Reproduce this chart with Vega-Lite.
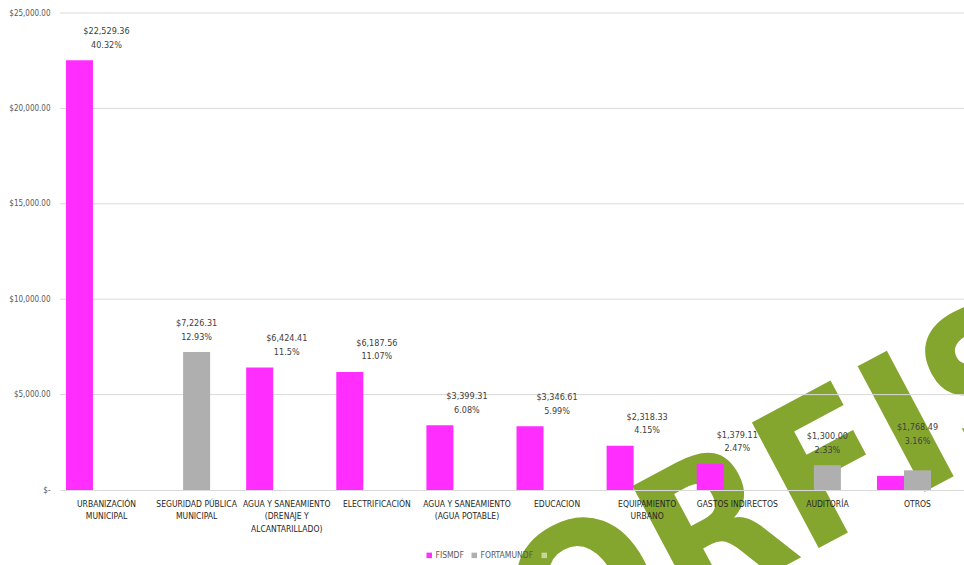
{
  "$schema": "https://vega.github.io/schema/vega-lite/v6.json",
  "width": 904,
  "height": 477,
  "autosize": {"type": "none"},
  "padding": {"left": 60, "top": 13, "right": 0, "bottom": 75},
  "background": "white",
  "config": {
    "view": {"stroke": null},
    "font": "DejaVu Sans Condensed, sans-serif"
  },
  "datasets": {
    "bars": [
      {"category": "URBANIZACIÓN MUNICIPAL", "serie": "FISMDF", "value": 22529.36},
      {"category": "SEGURIDAD PÚBLICA MUNICIPAL", "serie": "FORTAMUNDF", "value": 7226.31},
      {"category": "AGUA Y SANEAMIENTO (DRENAJE Y ALCANTARILLADO)", "serie": "FISMDF", "value": 6424.41},
      {"category": "ELECTRIFICACIÓN", "serie": "FISMDF", "value": 6187.56},
      {"category": "AGUA Y SANEAMIENTO (AGUA POTABLE)", "serie": "FISMDF", "value": 3399.31},
      {"category": "EDUCACION", "serie": "FISMDF", "value": 3346.61},
      {"category": "EQUIPAMIENTO URBANO", "serie": "FISMDF", "value": 2318.33},
      {"category": "GASTOS INDIRECTOS", "serie": "FISMDF", "value": 1379.11},
      {"category": "AUDITORÍA", "serie": "FORTAMUNDF", "value": 1300.00},
      {"category": "OTROS", "serie": "FISMDF", "value": 737.49},
      {"category": "OTROS", "serie": "FORTAMUNDF", "value": 1031.00}
    ],
    "labels": [
      {"category": "URBANIZACIÓN MUNICIPAL", "total": 22529.36, "pct": "40.32%"},
      {"category": "SEGURIDAD PÚBLICA MUNICIPAL", "total": 7226.31, "pct": "12.93%"},
      {"category": "AGUA Y SANEAMIENTO (DRENAJE Y ALCANTARILLADO)", "total": 6424.41, "pct": "11.5%"},
      {"category": "ELECTRIFICACIÓN", "total": 6187.56, "pct": "11.07%"},
      {"category": "AGUA Y SANEAMIENTO (AGUA POTABLE)", "total": 3399.31, "pct": "6.08%"},
      {"category": "EDUCACION", "total": 3346.61, "pct": "5.99%"},
      {"category": "EQUIPAMIENTO URBANO", "total": 2318.33, "pct": "4.15%"},
      {"category": "GASTOS INDIRECTOS", "total": 1379.11, "pct": "2.47%"},
      {"category": "AUDITORÍA", "total": 1300.00, "pct": "2.33%"},
      {"category": "OTROS", "total": 1768.49, "pct": "3.16%"}
    ],
    "grid": [
      {"v": 5000}, {"v": 10000}, {"v": 15000}, {"v": 20000}, {"v": 25000}
    ],
    "mark": [
      {"category": "AUDITORÍA", "v": -830, "text": "ORFIS"}
    ]
  },
  "layer": [
    {
      "data": {"name": "mark"},
      "mark": {"type": "text", "fontSize": 195, "fontWeight": "bold", "font": "DejaVu Sans Condensed", "angle": -28, "color": "#84A62F", "align": "center", "baseline": "middle", "dx": -30, "dy": -26},
      "encoding": {
        "x": {"field": "category", "type": "nominal"},
        "y": {"field": "v", "type": "quantitative"},
        "text": {"field": "text"}
      }
    },
    {
      "data": {"name": "grid"},
      "mark": {"type": "rule", "color": "#D9D9D9", "strokeWidth": 1},
      "encoding": {
        "y": {"field": "v", "type": "quantitative"}
      }
    },
    {
      "data": {"name": "bars"},
      "mark": {"type": "bar"},
      "encoding": {
        "x": {
          "field": "category", "type": "nominal",
          "scale": {
            "domain": ["URBANIZACIÓN MUNICIPAL", "SEGURIDAD PÚBLICA MUNICIPAL", "AGUA Y SANEAMIENTO (DRENAJE Y ALCANTARILLADO)", "ELECTRIFICACIÓN", "AGUA Y SANEAMIENTO (AGUA POTABLE)", "EDUCACION", "EQUIPAMIENTO URBANO", "GASTOS INDIRECTOS", "AUDITORÍA", "OTROS"],
            "paddingInner": 0.1, "paddingOuter": 0.066
          },
          "axis": {
            "title": null, "labelAngle": 0, "labelAlign": "center", "ticks": false, "domainColor": "#D9D9D9", "zindex": 1,
            "labelColor": "#262626", "labelFontSize": 8.5, "labelLineHeight": 12.8, "labelPadding": 9,
            "labelOverlap": false, "labelBound": false, "labelLimit": 0, "labelBaseline": "top",
            "labelExpr": "datum.label == 'URBANIZACIÓN MUNICIPAL' ? ['URBANIZACIÓN','MUNICIPAL'] : datum.label == 'SEGURIDAD PÚBLICA MUNICIPAL' ? ['SEGURIDAD PÚBLICA','MUNICIPAL'] : datum.label == 'AGUA Y SANEAMIENTO (DRENAJE Y ALCANTARILLADO)' ? ['AGUA Y SANEAMIENTO','(DRENAJE Y','ALCANTARILLADO)'] : datum.label == 'AGUA Y SANEAMIENTO (AGUA POTABLE)' ? ['AGUA Y SANEAMIENTO','(AGUA POTABLE)'] : datum.label == 'EQUIPAMIENTO URBANO' ? ['EQUIPAMIENTO','URBANO'] : datum.label"
          }
        },
        "xOffset": {"field": "serie", "type": "nominal", "scale": {"domain": ["FISMDF", "FORTAMUNDF", " "]}},
        "y": {
          "field": "value", "type": "quantitative",
          "scale": {"domain": [0, 25000], "nice": false},
          "axis": {
            "title": null, "grid": false, "domain": false, "ticks": false,
            "values": [0, 5000, 10000, 15000, 20000, 25000],
            "labelColor": "#595959", "labelFontSize": 8, "labelPadding": 10,
            "labelExpr": "datum.value == 0 ? '$-' : '$' + format(datum.value, ',.2f')"
          }
        },
        "color": {
          "field": "serie", "type": "nominal",
          "scale": {"domain": ["FISMDF", "FORTAMUNDF", " "], "range": ["#FF2EFF", "#AFAFAF", "#C3D69B"]},
          "legend": {
            "title": null, "orient": "none", "direction": "horizontal", "legendX": 365, "legendY": 538,
            "symbolType": "square", "symbolSize": 30, "symbolStrokeWidth": 0, "labelFontSize": 8.5, "labelColor": "#595959",
            "labelOffset": 2, "columnPadding": 6, "padding": 0
          }
        }
      }
    },
    {
      "data": {"name": "labels"},
      "mark": {"type": "text", "fontSize": 9, "color": "#404040", "baseline": "middle", "dy": -29},
      "encoding": {
        "x": {"field": "category", "type": "nominal"},
        "y": {"field": "total", "type": "quantitative"},
        "text": {"field": "total", "type": "quantitative", "format": "$,.2f"}
      }
    },
    {
      "data": {"name": "labels"},
      "mark": {"type": "text", "fontSize": 9, "color": "#404040", "baseline": "middle", "dy": -15.5},
      "encoding": {
        "x": {"field": "category", "type": "nominal"},
        "y": {"field": "total", "type": "quantitative"},
        "text": {"field": "pct"}
      }
    }
  ]
}
